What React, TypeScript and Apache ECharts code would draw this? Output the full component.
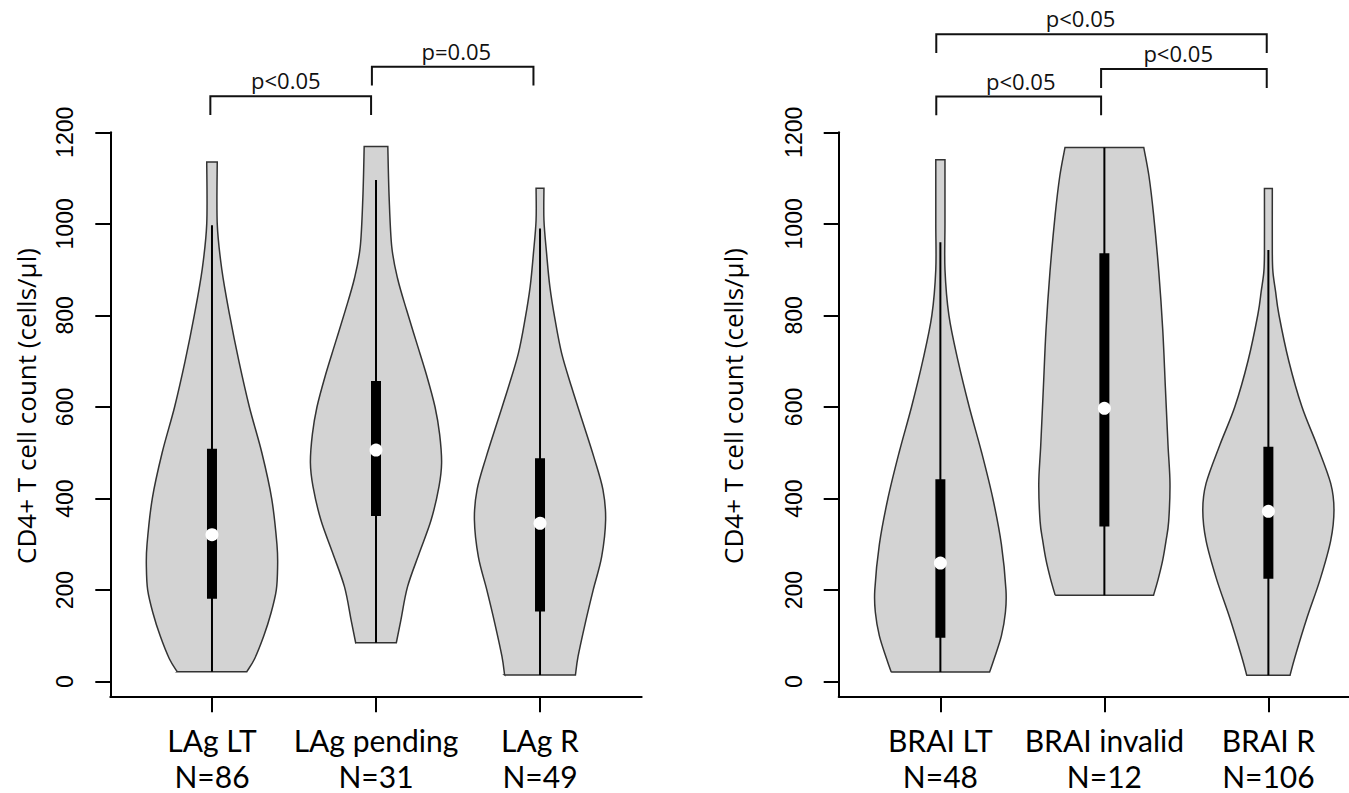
import React, { useEffect, useRef } from "react";
import * as echarts from "echarts";

// ---------- data ----------
const yTicks = [0, 200, 400, 600, 800, 1000, 1200];
const categoryTicks = [1, 2, 3];

const lagCategories = ["LAg LT", "LAg pending", "LAg R"];
const lagCounts = ["N=86", "N=31", "N=49"];
const braiCategories = ["BRAI LT", "BRAI invalid", "BRAI R"];
const braiCounts = ["N=48", "N=12", "N=106"];

// violin outlines: CD4+ values (cells/µl) and relative density (max = 1)
const lagLtValues = [21.6, 50, 100, 150, 200, 250, 300, 400, 500, 600, 700, 800, 900, 1000, 1135];
const lagLtDensity = [0.53, 0.65, 0.79, 0.9, 0.98, 1.0, 0.99, 0.91, 0.76, 0.57, 0.41, 0.27, 0.15, 0.08, 0.08];
const lagPendingValues = [85, 135, 207, 281, 353, 426, 478, 540, 600, 670, 740, 810, 880, 950, 1059, 1169];
const lagPendingDensity = [0.31, 0.38, 0.48, 0.66, 0.84, 0.96, 1.0, 0.97, 0.9, 0.77, 0.62, 0.47, 0.33, 0.24, 0.2, 0.18];
const lagRValues = [14.6, 55, 128, 200, 273, 353, 419, 491, 572, 644, 717, 790, 863, 936, 1008, 1078];
const lagRDensity = [0.54, 0.58, 0.69, 0.81, 0.94, 1.0, 0.96, 0.82, 0.64, 0.48, 0.33, 0.23, 0.15, 0.1, 0.06, 0.06];

const braiLtValues = [21, 50, 100, 150, 200, 300, 400, 500, 600, 700, 800, 900, 1000, 1140];
const braiLtDensity = [0.75, 0.82, 0.93, 0.99, 1.0, 0.93, 0.8, 0.63, 0.44, 0.27, 0.13, 0.07, 0.07, 0.07];
const braiInvalidValues = [189, 224, 266, 308, 350, 433, 517, 642, 768, 894, 1020, 1104, 1167];
const braiInvalidDensity = [0.75, 0.82, 0.89, 0.94, 0.98, 1.0, 0.97, 0.93, 0.89, 0.83, 0.75, 0.68, 0.6];
const braiRValues = [14, 56, 140, 224, 308, 375, 433, 517, 601, 701, 802, 852, 894, 936, 1077];
const braiRDensity = [0.33, 0.41, 0.59, 0.79, 0.95, 1.0, 0.95, 0.74, 0.51, 0.31, 0.16, 0.11, 0.07, 0.06, 0.06];

// box-plot statistics
const lagWhiskerLow = [21.6, 85, 14.6];
const lagQ1 = [181, 362, 153];
const lagMedian = [321, 506, 346];
const lagQ3 = [509, 657, 488];
const lagWhiskerHigh = [997, 1096, 990];

const braiWhiskerLow = [21, 189, 14];
const braiQ1 = [96, 339, 225];
const braiMedian = [259, 597, 372];
const braiQ3 = [442, 936, 513];
const braiWhiskerHigh = [960, 1167, 943];

// significance brackets: [from, to, level (cells/µl), label position, label]
const lagBrackets: [number, number, number, number, string][] = [
  [0.99, 1.97, 1279, 1.45, "p<0.05"],
  [1.975, 2.96, 1343, 2.49, "p=0.05"],
];
const braiBrackets: [number, number, number, number, string][] = [
  [0.975, 2.99, 1414, 1.855, "p<0.05"],
  [1.98, 2.99, 1338, 2.45, "p<0.05"],
  [0.975, 1.98, 1278, 1.49, "p<0.05"],
];

// ---------- helpers ----------
const VIOLIN_HALF = 0.4; // category units
const LEG = 41; // bracket leg length in value units

const lagViolins = [
  [lagLtValues, lagLtDensity],
  [lagPendingValues, lagPendingDensity],
  [lagRValues, lagRDensity],
];
const braiViolins = [
  [braiLtValues, braiLtDensity],
  [braiInvalidValues, braiInvalidDensity],
  [braiRValues, braiRDensity],
];

function spline(pts: number[][]) {
  let s = "";
  for (let i = 0; i < pts.length - 1; i++) {
    const p0 = pts[i - 1] || pts[i];
    const p1 = pts[i];
    const p2 = pts[i + 1];
    const p3 = pts[i + 2] || pts[i + 1];
    const c1 = [p1[0] + (p2[0] - p0[0]) / 6, p1[1] + (p2[1] - p0[1]) / 6];
    const c2 = [p2[0] - (p3[0] - p1[0]) / 6, p2[1] - (p3[1] - p1[1]) / 6];
    s += ` C${c1[0].toFixed(2)},${c1[1].toFixed(2)} ${c2[0].toFixed(2)},${c2[1].toFixed(2)} ${p2[0].toFixed(2)},${p2[1].toFixed(2)}`;
  }
  return s;
}

function makeViolinSeries(
  axisIndex: number,
  violins: number[][][],
  low: number[],
  q1: number[],
  med: number[],
  q3: number[],
  high: number[]
) {
  return {
    type: "custom",
    xAxisIndex: axisIndex,
    yAxisIndex: axisIndex,
    clip: false,
    silent: true,
    data: med.map((m, i) => [i + 1, m]),
    renderItem: (params: any, api: any) => {
      const i = params.dataIndex;
      const pos = i + 1;
      const [values, density] = violins[i];
      const cx = api.coord([pos, 0])[0];
      const unit = api.size([1, 0])[0];
      const right = values.map((v, k) => [cx + density[k] * VIOLIN_HALF * unit, api.coord([pos, v])[1]]);
      const left = values.map((v, k) => [cx - density[k] * VIOLIN_HALF * unit, api.coord([pos, v])[1]]).reverse();
      const d =
        `M${left[left.length - 1][0]},${left[left.length - 1][1]} L${right[0][0]},${right[0][1]}` +
        spline(right) +
        ` L${left[0][0]},${left[0][1]}` +
        spline(left) +
        " Z";
      const yLow = api.coord([pos, low[i]])[1];
      const yHigh = api.coord([pos, high[i]])[1];
      const yQ1 = api.coord([pos, q1[i]])[1];
      const yQ3 = api.coord([pos, q3[i]])[1];
      const yMed = api.coord([pos, med[i]])[1];
      return {
        type: "group",
        children: [
          { type: "path", shape: { pathData: d }, style: { fill: "#d3d3d3", stroke: "#333", lineWidth: 1.5 } },
          { type: "line", shape: { x1: cx, y1: yLow, x2: cx, y2: yHigh }, style: { stroke: "#000", lineWidth: 2 } },
          { type: "rect", shape: { x: cx - 5, y: yQ3, width: 10, height: yQ1 - yQ3 }, style: { fill: "#000" } },
          { type: "circle", shape: { cx, cy: yMed, r: 6.5 }, style: { fill: "#fff" } },
        ],
      };
    },
  };
}

function makeBracketSeries(axisIndex: number, brackets: [number, number, number, number, string][]) {
  return {
    type: "custom",
    xAxisIndex: axisIndex,
    yAxisIndex: axisIndex,
    clip: false,
    silent: true,
    data: brackets.map((b) => [b[0], b[2]]),
    renderItem: (params: any, api: any) => {
      const [from, to, level, labelAt, label] = brackets[params.dataIndex];
      const p1 = api.coord([from, level - LEG]);
      const p2 = api.coord([from, level]);
      const p3 = api.coord([to, level]);
      const p4 = api.coord([to, level - LEG]);
      const lp = api.coord([labelAt, level]);
      return {
        type: "group",
        children: [
          {
            type: "polyline",
            shape: { points: [p1, p2, p3, p4] },
            style: { stroke: "#111", lineWidth: 2, fill: "none" },
          },
          {
            type: "text",
            x: lp[0],
            y: lp[1] - 16,
            style: {
              text: label,
              font: '22px "Open Sans"',
              fill: "#111",
              align: "center",
              verticalAlign: "middle",
              textAlign: "center",
              textVerticalAlign: "middle",
            },
          },
        ],
      };
    },
  };
}

const axisLineStyle = { color: "#000", width: 2 };

function makeXAxis(gridIndex: number, max: number, cats: string[], counts: string[]) {
  return {
    type: "value",
    gridIndex,
    min: 0.38,
    max,
    axisLine: { show: true, onZero: false, lineStyle: axisLineStyle },
    axisTick: { show: true, length: 16, customValues: categoryTicks, lineStyle: axisLineStyle },
    axisLabel: {
      customValues: categoryTicks,
      formatter: (v: number) => {
        const k = Math.round(v) - 1;
        return `{a|${cats[k]}}\n{b|${counts[k]}}`;
      },
      margin: 26,
      color: "#000",
      rich: {
        a: { fontFamily: "Lato", fontSize: 30, lineHeight: 36, color: "#000" },
        b: { fontFamily: "Lato", fontSize: 30, lineHeight: 36, color: "#000" },
      },
    },
    splitLine: { show: false },
  };
}

function makeYAxis(gridIndex: number) {
  return {
    type: "value",
    gridIndex,
    min: -32,
    max: 1200,
    axisLine: { show: true, onZero: false, lineStyle: axisLineStyle },
    axisTick: { show: true, length: 15, customValues: yTicks, lineStyle: axisLineStyle },
    axisLabel: {
      customValues: yTicks,
      formatter: (v: number) => String(Math.round(v)),
      rotate: 90,
      margin: 45,
      align: "center",
      verticalAlign: "middle",
      fontFamily: "Liberation Sans",
      fontSize: 23,
      color: "#000",
    },
    splitLine: { show: false },
  };
}

const titleText = "CD4+ T cell count (cells/µl)";

export default function App() {
  const ref = useRef<HTMLDivElement>(null);
  useEffect(() => {
    const chart = echarts.init(ref.current as HTMLDivElement, null, { renderer: "svg" });
    const titleStyle = {
      text: titleText,
      font: '26px "Open Sans"',
      fill: "#000",
      align: "center",
      verticalAlign: "middle",
      textAlign: "center",
      textVerticalAlign: "middle",
    };
    const option: any = {
      animation: false,
      backgroundColor: "#fff",
      grid: [
        { left: 110.3, top: 132.3, width: 531.4, height: 564, outerBoundsMode: "none" },
        { left: 838.7, top: 132.3, width: 510.3, height: 564, outerBoundsMode: "none" },
      ],
      xAxis: [
        makeXAxis(0, 3.62, lagCategories, lagCounts),
        makeXAxis(1, 0.38 + 510.3 / 164, braiCategories, braiCounts),
      ],
      yAxis: [makeYAxis(0), makeYAxis(1)],
      graphic: [
        { type: "text", x: 26, y: 406, rotation: Math.PI / 2, style: titleStyle },
        { type: "text", x: 733, y: 406, rotation: Math.PI / 2, style: titleStyle },
      ],
      series: [
        makeViolinSeries(0, lagViolins, lagWhiskerLow, lagQ1, lagMedian, lagQ3, lagWhiskerHigh),
        makeViolinSeries(1, braiViolins, braiWhiskerLow, braiQ1, braiMedian, braiQ3, braiWhiskerHigh),
        makeBracketSeries(0, lagBrackets),
        makeBracketSeries(1, braiBrackets),
      ],
    };
    chart.setOption(option);
    return () => chart.dispose();
  }, []);
  return (
    <div
      ref={ref}
      style={{ position: "fixed", left: 0, top: 0, width: 1349, height: 793, background: "#fff" }}
    />
  );
}
